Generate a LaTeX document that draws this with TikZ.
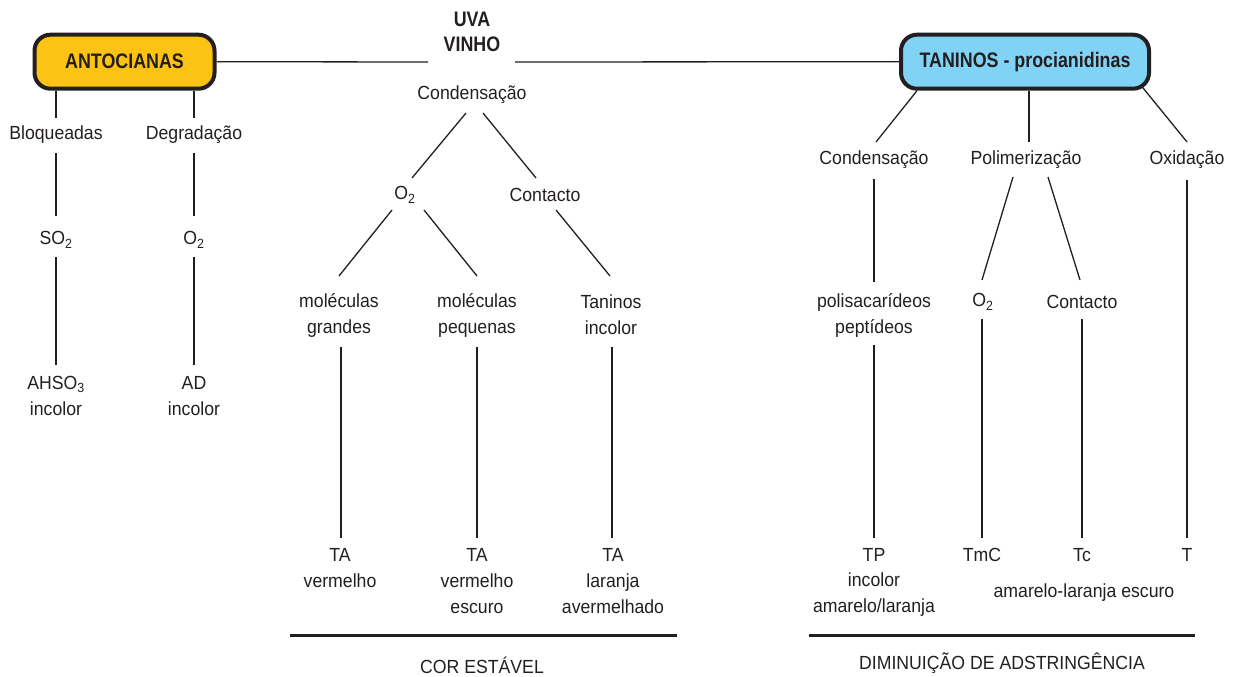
\documentclass[tikz,border=0pt]{standalone}
\usepackage{fontspec}
\setmainfont[FakeStretch=0.93]{Liberation Sans}
\newfontfamily\boldcond[FakeStretch=0.85]{Liberation Sans Bold}
\usetikzlibrary{calc}
\definecolor{ink}{HTML}{231F20}
\definecolor{gold}{HTML}{FCC314}
\definecolor{sky}{HTML}{80D3F5}
\tikzset{
  lbl/.style={inner sep=0pt, align=center, text=ink, font=\fontsize{19}{26}\selectfont},
  head/.style={inner sep=0pt, align=center, text=ink, font=\boldcond\fontsize{21}{25}\selectfont},
  topbox/.style={draw=ink, line width=4pt, rounded corners=16pt, minimum height=54pt, text=ink, font=\boldcond\fontsize{21}{25}\selectfont},
  conn/.style={draw=ink, line width=1.3pt},
  rule/.style={draw=ink, line width=3pt}
}
\begin{document}
\begin{tikzpicture}[x=1pt,y=-1pt]
\useasboundingbox (0,0) rectangle (1234,677);
% top boxes
\node[topbox, fill=gold, minimum width=180pt] (antoc) at (124.5,61.7) {ANTOCIANAS};
\node[topbox, fill=sky, minimum width=248pt] (tan) at (1025,61.7) {TANINOS - procianidinas};
\node[head] (uva) at (472,32) {UVA\\VINHO};
\draw[conn] (antoc.east) -- ($(uva)+(-44,30)$);
\draw[conn] ($(uva)+(43,30)$) -- (tan.west);

% left branch
\node[lbl] (bloq) at (56,135) {Bloqueadas};
\node[lbl] (degr) at (194,135) {Degradação};
\node[lbl] (so2) at (56,240) {SO\textsubscript{2}};
\node[lbl] (o2b) at (194,240) {O\textsubscript{2}};
\node[lbl] (ahso) at (56,396) {AHSO\textsubscript{3}\\incolor};
\node[lbl] (ad) at (194,396) {AD\\incolor};
\draw[conn] (antoc.south -| bloq) -- ($(bloq)+(0,-17)$);
\draw[conn] (antoc.south -| degr) -- ($(degr)+(0,-17)$);
\draw[conn] ($(bloq)+(0,18)$) -- ($(so2)+(0,-24)$);
\draw[conn] ($(degr)+(0,18)$) -- ($(o2b)+(0,-24)$);
\draw[conn] ($(so2)+(0,17)$) -- ($(ahso)+(0,-31)$);
\draw[conn] ($(o2b)+(0,17)$) -- ($(ad)+(0,-31)$);

% middle branch
\node[lbl] (cond) at (472,95) {Condensação};
\node[lbl] (o2a) at (405,195) {O\textsubscript{2}};
\node[lbl] (cont1) at (545,195) {Contacto};
\node[lbl] (molg) at (339,315) {moléculas\\grandes};
\node[lbl] (molp) at (477,315) {moléculas\\pequenas};
\node[lbl] (tinc) at (611,315) {Taninos\\incolor};
\node[lbl] (ta1) at (340,568) {TA\\vermelho};
\node[lbl] (ta2) at (477,581) {TA\\vermelho\\escuro};
\node[lbl] (ta3) at (613,581) {TA\\laranja\\avermelhado};
\draw[conn] ($(cond)+(-6,18)$) -- ($(o2a)+(7,-17)$);
\draw[conn] ($(cond)+(11,18)$) -- ($(cont1)+(-9,-17)$);
\draw[conn] ($(o2a)+(-13,15)$) -- ($(molg)+(0,-39)$);
\draw[conn] ($(o2a)+(19,15)$) -- ($(molp)+(0,-39)$);
\draw[conn] ($(cont1)+(11,15)$) -- ($(tinc)+(-1,-39)$);
\draw[conn] ($(molg)+(2,32)$) -- ($(ta1)+(1,-30)$);
\draw[conn] ($(molp)+(0,32)$) -- ($(ta2)+(0,-43)$);
\draw[conn] ($(tinc)+(1,32)$) -- ($(ta3)+(-1,-43)$);
\draw[rule] (290,635) -- (677,635);
\node[lbl] (cor) at (482,665) {COR ESTÁVEL};

% right branch
\node[lbl] (condr) at (874,160) {Condensação};
\node[lbl] (polim) at (1026,160) {Polimerização};
\node[lbl] (oxid) at (1187,160) {Oxidação};
\node[lbl] (polis) at (874,315) {polisacarídeos\\peptídeos};
\node[lbl] (o2c) at (983,302) {O\textsubscript{2}};
\node[lbl] (cont2) at (1082,302) {Contacto};
\node[lbl] (tp) at (874,555) {TP};
\node[lbl] (tmc) at (982,555) {TmC};
\node[lbl] (tc) at (1082,555) {Tc};
\node[lbl] (t) at (1187,555) {T};
\node[lbl] (tpcol) at (874,595) {incolor\\amarelo/laranja};
\node[lbl] (escur) at (1084,593) {amarelo-laranja escuro};
\draw[conn] ($(tan.south west)+(18,0)$) -- ($(condr)+(2,-18)$);
\draw[conn] ($(tan.south)+(4,0)$) -- ($(polim)+(3,-18)$);
\draw[conn] ($(tan.south east)+(-9,-4)$) -- ($(oxid)+(0,-18)$);
\draw[conn] ($(condr)+(0,19)$) -- ($(polis)+(0,-33)$);
\draw[conn] ($(polim)+(-13,17)$) -- ($(o2c)+(-1,-22)$);
\draw[conn] ($(polim)+(22,17)$) -- ($(cont2)+(-2,-22)$);
\draw[conn] ($(oxid)+(0,20)$) -- ($(t)+(0,-17)$);
\draw[conn] ($(polis)+(0,30)$) -- ($(tp)+(0,-17)$);
\draw[conn] ($(o2c)+(-1,17)$) -- ($(tmc)+(0,-17)$);
\draw[conn] ($(cont2)+(0,17)$) -- ($(tc)+(0,-17)$);
\draw[rule] (809,635) -- (1195,635);
\node[lbl] (dimi) at (1002,663) {DIMINUIÇÃO DE ADSTRINGÊNCIA};
\end{tikzpicture}
\end{document}
